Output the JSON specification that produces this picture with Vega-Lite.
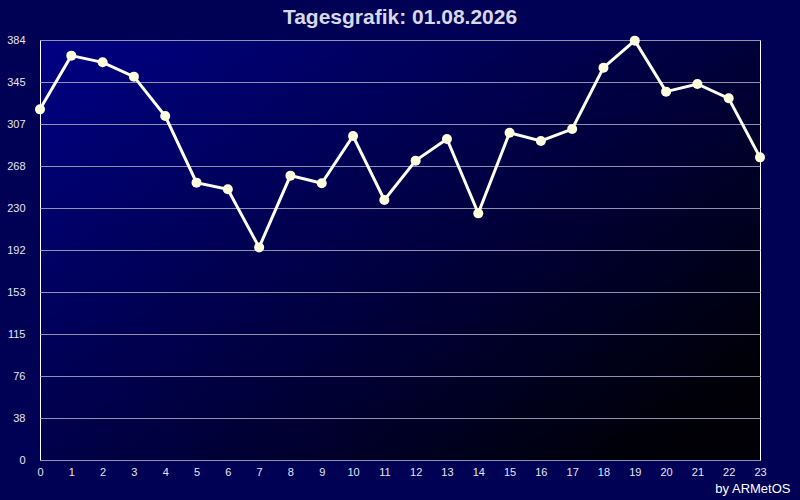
{
  "$schema": "https://vega.github.io/schema/vega-lite/v6.json",
  "width": 720,
  "height": 420,
  "autosize": {"type": "none"},
  "padding": {"left": 40, "top": 40, "right": 40, "bottom": 40},
  "background": "#000055",
  "title": {
    "text": "Tagesgrafik: 01.08.2026",
    "font": "Liberation Sans",
    "fontSize": 21,
    "fontWeight": "bold",
    "color": "#d8d8e8",
    "anchor": "middle",
    "offset": 6
  },
  "data": {
    "values": [
      {"hour": 0, "value": 320.6},
      {"hour": 1, "value": 369.7},
      {"hour": 2, "value": 363.6},
      {"hour": 3, "value": 350.5},
      {"hour": 4, "value": 314.5},
      {"hour": 5, "value": 253.6},
      {"hour": 6, "value": 247.5},
      {"hour": 7, "value": 194.4},
      {"hour": 8, "value": 260.0},
      {"hour": 9, "value": 253.0},
      {"hour": 10, "value": 296.2},
      {"hour": 11, "value": 237.7},
      {"hour": 12, "value": 273.7},
      {"hour": 13, "value": 293.5},
      {"hour": 14, "value": 225.5},
      {"hour": 15, "value": 299.2},
      {"hour": 16, "value": 291.7},
      {"hour": 17, "value": 302.6},
      {"hour": 18, "value": 358.7},
      {"hour": 19, "value": 383.4},
      {"hour": 20, "value": 336.8},
      {"hour": 21, "value": 343.8},
      {"hour": 22, "value": 330.7},
      {"hour": 23, "value": 276.7}
    ]
  },
  "encoding": {
    "x": {
      "field": "hour",
      "type": "quantitative",
      "scale": {"domain": [0, 23], "nice": false, "zero": false},
      "axis": {
        "values": [0,1,2,3,4,5,6,7,8,9,10,11,12,13,14,15,16,17,18,19,20,21,22,23],
        "grid": false,
        "ticks": false,
        "domain": false,
        "labelPadding": 6,
        "labelAngle": 0,
        "labelFont": "Liberation Sans",
        "labelFontSize": 11,
        "labelColor": "#e6e6f0",
        "labelFlush": false,
        "labelOverlap": false,
        "title": "by ARMetOS",
        "titleFont": "Liberation Sans",
        "titleFontSize": 13,
        "titleFontWeight": "normal",
        "titleColor": "#ffffff",
        "titleAnchor": "end",
        "titleAlign": "right",
        "titleBaseline": "alphabetic",
        "titleX": 750,
        "titleY": 32
      }
    },
    "y": {
      "field": "value",
      "type": "quantitative",
      "scale": {"domain": [0, 384], "nice": false},
      "axis": {
        "values": [0, 38.4, 76.8, 115.2, 153.6, 192, 230.4, 268.8, 307.2, 345.6, 384],
        "labelExpr": "floor(datum.value)",
        "grid": true,
        "gridColor": "#9090b0",
        "gridWidth": 1,
        "ticks": false,
        "domain": false,
        "labelPadding": 15,
        "labelFont": "Liberation Sans",
        "labelFontSize": 11,
        "labelColor": "#e6e6f0",
        "labelFlush": false,
        "labelOverlap": false,
        "title": null
      }
    }
  },
  "layer": [
    {
      "mark": {"type": "line", "color": "#fffff0", "strokeWidth": 3, "clip": false}
    },
    {
      "mark": {"type": "point", "filled": true, "shape": "circle", "size": 100, "color": "#ffffe0", "opacity": 1, "clip": false}
    }
  ],
  "config": {
    "view": {
      "stroke": "#ffffff",
      "strokeWidth": 1,
      "fill": {
        "gradient": "linear",
        "x1": 0, "y1": 0, "x2": 1, "y2": 0.8,
        "stops": [
          {"offset": 0, "color": "#000084"},
          {"offset": 0.5, "color": "#000048"},
          {"offset": 1, "color": "#000006"}
        ]
      }
    }
  }
}
